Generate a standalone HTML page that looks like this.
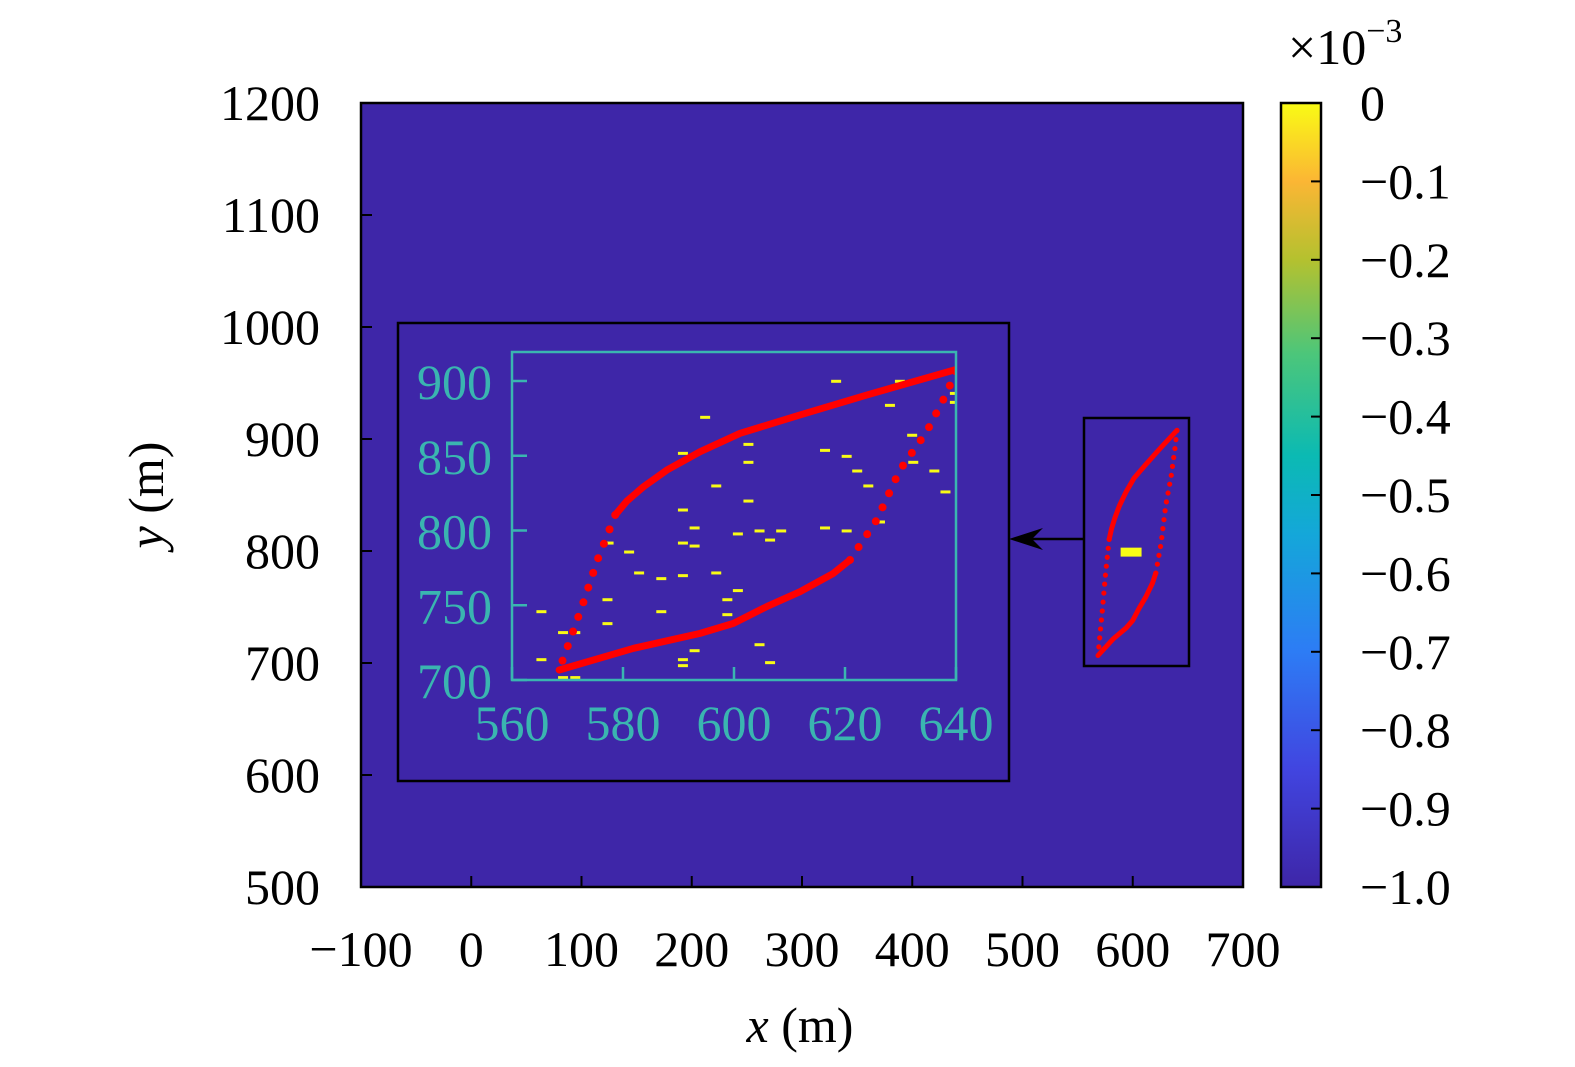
<!DOCTYPE html>
<html><head><meta charset="utf-8">
<style>
html,body{margin:0;padding:0;background:#fff;}
svg{display:block;font-family:"Liberation Serif",serif;}
</style></head>
<body>
<svg id="chart" width="1575" height="1067" viewBox="0 0 1575 1067" xmlns="http://www.w3.org/2000/svg">
<defs>
<linearGradient id="parula" x1="0" y1="1" x2="0" y2="0">
<stop offset="0" stop-color="#3e26a8"/>
<stop offset="0.15" stop-color="#4145e0"/>
<stop offset="0.3" stop-color="#2d7cf5"/>
<stop offset="0.45" stop-color="#14a7d9"/>
<stop offset="0.55" stop-color="#0bbab3"/>
<stop offset="0.68" stop-color="#4cc67a"/>
<stop offset="0.8" stop-color="#b4c12f"/>
<stop offset="0.9" stop-color="#fbb634"/>
<stop offset="1" stop-color="#f9fb15"/>
</linearGradient>
<clipPath id="insetClip"><rect x="512" y="352" width="444" height="328"/></clipPath>
<clipPath id="mainClip"><rect x="361" y="103" width="882" height="784"/></clipPath>
</defs>
<g id="root"></g>
</svg>
<script>
// ---- data ----
const xTicks = [-100,0,100,200,300,400,500,600,700];
const yTicks = [500,600,700,800,900,1000,1100,1200];
const cbTicks = [0,-0.1,-0.2,-0.3,-0.4,-0.5,-0.6,-0.7,-0.8,-0.9,-1.0];
const cbLabels = ["0","\u22120.1","\u22120.2","\u22120.3","\u22120.4","\u22120.5","\u22120.6","\u22120.7","\u22120.8","\u22120.9","\u22121.0"];
const insetXTicks = [560,580,600,620,640];
const insetYTicks = [700,750,800,850,900];
// trajectory segments (x, y in m)
const lowerX = [568.5,581.9,593.9,599.9,605.9,611.9,617.9,620.9];
const lowerY = [706.7,721.2,731.2,737.9,749.1,759.1,771.3,780.3];
const rightX = [620.9,625.7,629.9,634.7,638.3,640.1];
const rightY = [780.3,807,840.5,866,891.7,907.8];
const upperX = [640.1,623.9,611.9,601.1,593.9,587.9,583.7,580.7,578.6];
const upperY = [907.8,890.6,877.3,865.0,852.7,840.4,829.3,819.7,810.4];
const leftX = [578.6,575.4,572.6,568.5];
const leftY = [810.4,780.3,749,706.7];
// heat cells (non-zero values) centers
const cellX = [618.4,629.9,628.1,639.8,639.8,594.8,590.8,602.6,602.6,616.4,620.3,632.1,632.3,622.2,636.1,624.2,638.1,596.8,602.6,590.8,592.9,616.4,620.3,626.3,600.7,604.6,608.5,606.5,577.4,590.8,592.9,581.1,582.9,586.9,590.8,596.8,600.7,598.8,577.2,565.3,586.9,598.8,577.2,569.2,571.4,565.3,582.9,592.9,604.6,590.8,590.8,606.5,569.2,571.4,573.2];
const cellY = [899.8,899.8,883.7,891.7,885.7,875.7,851.6,857.6,845.6,853.6,849.6,863.7,845.6,839.8,839.8,829.8,825.8,829.8,819.7,813.7,801.7,801.7,799.7,805.7,797.7,799.7,799.7,793.6,791.6,791.6,789.6,785.6,771.6,767.8,769.8,771.6,759.8,753.7,753.7,745.7,745.7,743.7,737.7,731.7,731.7,713.6,721.6,719.6,723.6,713.6,709.6,711.6,701.6,701.6,698.2];

// ---- axes ----
const mx = v => 361 + (v + 100) * 882 / 800;
const my = v => 887 - (v - 500) * 784 / 700;
const ix = v => 512 + (v - 560) * 444 / 80;
const iy = v => 680 - (v - 700) * 299 / 200;
const cy = v => 103 + (0 - v) * 784 / 1.0;

const NS = "http://www.w3.org/2000/svg";
const root = document.getElementById('root');
function mk(tag, attrs, parent, text){
  const e = document.createElementNS(NS, tag);
  for (const k in attrs) e.setAttribute(k, attrs[k]);
  if (text !== undefined) e.textContent = text;
  (parent || root).appendChild(e);
  return e;
}
const FS = 50;

let bg = mk('rect',{x:361,y:103,width:882,height:784,fill:'#3e26a8'});



xTicks.forEach(t=>{
  const x = mx(t);
  let tk = mk('line',{x1:x,y1:887,x2:x,y2:876,stroke:'#000','stroke-width':2});
  
  
  let lb = mk('text',{x:x,y:966,'font-size':FS,'text-anchor':'middle',fill:'#000'},null,t<0?'\u2212'+(-t):String(t));
  
  
});
yTicks.forEach(t=>{
  const y = my(t);
  let tk = mk('line',{x1:361,y1:y,x2:372,y2:y,stroke:'#000','stroke-width':2});
  
  
  let lb = mk('text',{x:320,y:y+17,'font-size':FS,'text-anchor':'end',fill:'#000'},null,String(t));
  
  
});
let xt = mk('text',{x:800,y:1042,'font-size':FS,'text-anchor':'middle',fill:'#000'});


mk('tspan',{'font-style':'italic'},xt,'x');
mk('tspan',{},xt,' (m)');
let yt = mk('text',{x:0,y:0,'font-size':FS,'text-anchor':'middle',fill:'#000',transform:'translate(163,495) rotate(-90)'});


mk('tspan',{'font-style':'italic'},yt,'y');
mk('tspan',{},yt,' (m)');

function drawTraj(g, fx, fy, solidW, dotR, dotGap){
  const pts = (X,Y)=>X.map((v,i)=>fx(v)+','+fy(Y[i])).join(' ');
  [[rightX,rightY],[leftX,leftY]].forEach(s=>{
    let p = mk('polyline',{points:pts(s[0],s[1]),fill:'none',stroke:'#ff0000','stroke-width':dotR*2,'stroke-linecap':'round','stroke-dasharray':'0 '+dotGap},g);
    
    
  });
  [[lowerX,lowerY],[upperX,upperY]].forEach(s=>{
    let p = mk('polyline',{points:pts(s[0],s[1]),fill:'none',stroke:'#ff0000','stroke-width':solidW,'stroke-linejoin':'round','stroke-linecap':'round'},g);
    
    
  });
}

const mainG = mk('g',{'clip-path':'url(#mainClip)'});


let blk = mk('rect',{x:mx(589),y:my(803),width:mx(608)-mx(589),height:my(795)-my(803),fill:'#f9fb15'},mainG);


drawTraj(mainG, mx, my, 5, 2.6, 9);

let zb = mk('rect',{x:1084,y:418,width:105,height:248,fill:'none',stroke:'#000','stroke-width':2.5});


let ar = mk('line',{x1:1084,y1:539,x2:1018,y2:539,stroke:'#000','stroke-width':2.5});


let ah = mk('path',{d:'M1009,539 L1043,528 L1032,539 L1043,550 Z',fill:'#000'});



let ib = mk('rect',{x:398,y:323,width:611,height:458,fill:'#3e26a8',stroke:'#000','stroke-width':2.5});


const cyan = '#3ab5b0';
const insG = mk('g',{'clip-path':'url(#insetClip)'});


cellX.forEach((v,i)=>{
  let c = mk('rect',{x:ix(v)-5,y:iy(cellY[i])-1.5,width:10,height:3,fill:'#f9fb15'},insG);
  
  
});
drawTraj(insG, ix, iy, 7, 4, 15.5);
let ia = mk('rect',{x:512,y:352,width:444,height:328,fill:'none',stroke:cyan,'stroke-width':2.5});


insetXTicks.forEach(t=>{
  const x = ix(t);
  let tk = mk('line',{x1:x,y1:680,x2:x,y2:667,stroke:cyan,'stroke-width':2.5});
  
  
  let lb = mk('text',{x:x,y:740,'font-size':FS,'text-anchor':'middle',fill:cyan},null,String(t));
  
  
});
insetYTicks.forEach(t=>{
  const y = iy(t);
  let tk = mk('line',{x1:512,y1:y,x2:527,y2:y,stroke:cyan,'stroke-width':2.5});
  
  
  let lb = mk('text',{x:492,y:y+18,'font-size':FS,'text-anchor':'end',fill:cyan},null,String(t));
  
  
});

let mf = mk('rect',{x:361,y:103,width:882,height:784,fill:'none',stroke:'#000','stroke-width':2.5});



let cb = mk('rect',{x:1281,y:103,width:40,height:784,fill:'url(#parula)',stroke:'#000','stroke-width':2.5});


cbTicks.forEach((t,i)=>{
  const y = cy(t);
  let tk = mk('line',{x1:1321,y1:y,x2:1311,y2:y,stroke:'#000','stroke-width':2});
  
  
  let lb = mk('text',{x:1360,y:y+17,'font-size':FS,fill:'#000'},null,cbLabels[i]);
  
  
});
let ex = mk('text',{x:1288,y:64,'font-size':FS,fill:'#000'});


mk('tspan',{},ex,'\u00d710');
mk('tspan',{'font-size':34,dy:-22},ex,'\u22123');
</script>
</body></html>
